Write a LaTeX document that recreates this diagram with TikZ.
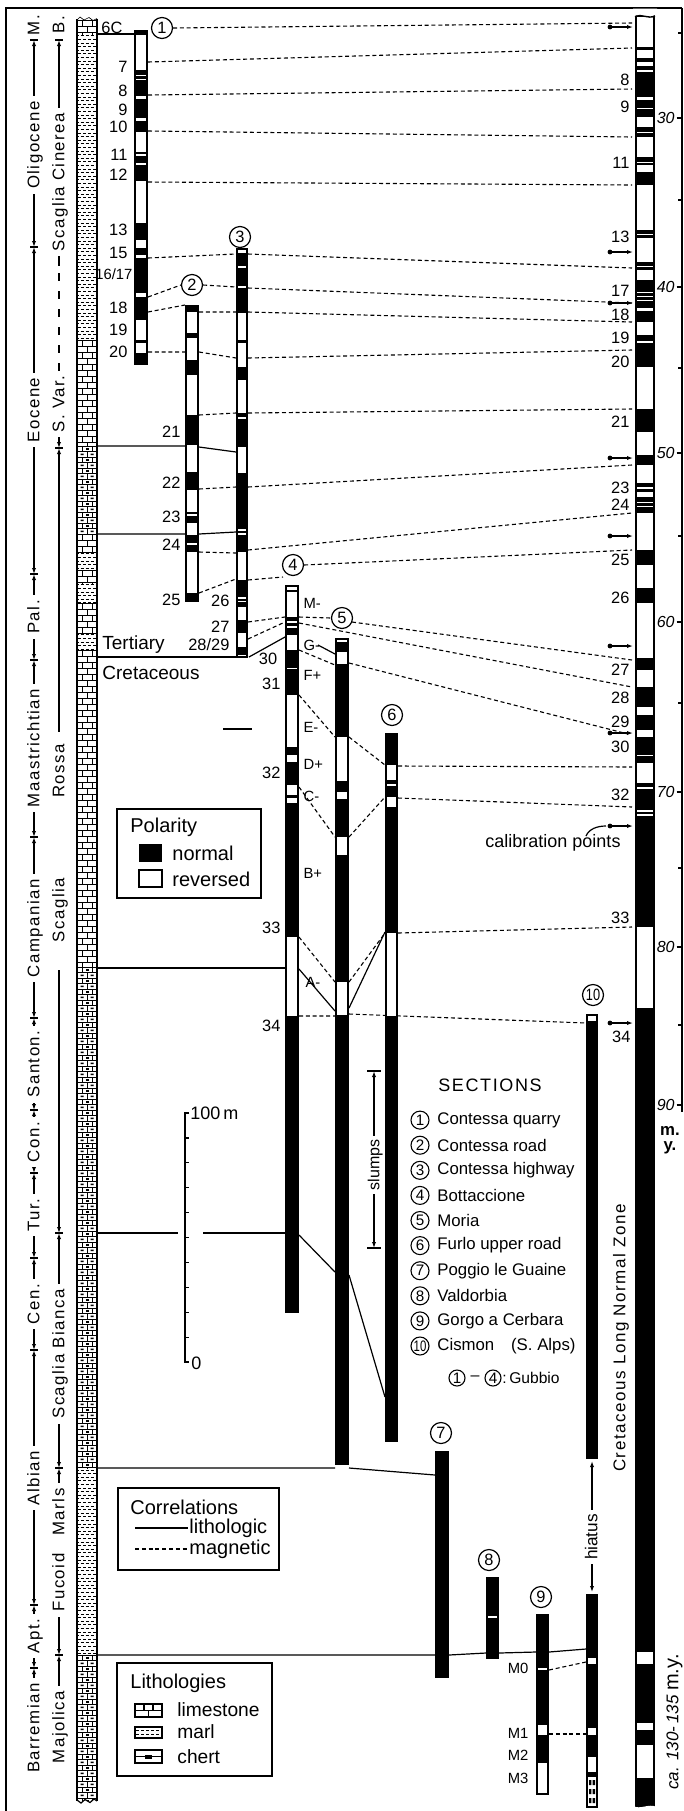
\documentclass[tikz,border=0pt]{standalone}
\usepackage{fontspec}
\setmainfont{Liberation Sans}
\newfontfamily\wide[LetterSpace=9]{Liberation Sans}
\usetikzlibrary{arrows.meta}
\newcommand\pcol[4]{\fill (#1,#3) rectangle (#2,#4);}
\newcommand\wb[3]{\foreach \ya/\yb in {#3}{\fill[white] ({#1+1.6},\ya) rectangle ({#2-1.6},\yb);}}
\newcommand\limest[2]{%
 \begin{scope}\clip (77,#1) rectangle (97,#2);
 \pgfmathtruncatemacro\nr{(#2-#1)/6}
 \foreach \i in {0,...,\nr}{%
   \pgfmathsetmacro\yy{#1+6*\i}
   \draw[pat] (77,\yy) -- (97,\yy);
   \ifodd\i\relax \draw[pat] (87,\yy) -- (87,\yy+6);
   \else \draw[pat] (82,\yy) -- (82,\yy+6) (92,\yy) -- (92,\yy+6);\fi}
 \end{scope}}
\newcommand\marl[2]{%
 \begin{scope}\clip (77,#1) rectangle (97,#2);
 \pgfmathtruncatemacro\nr{(#2-#1)/3.6}
 \foreach \i in {0,...,\nr}{%
   \pgfmathsetmacro\yy{#1+3.6*\i+1.8}
   \ifodd\i\relax \draw[pat,dash pattern=on 1.6pt off 0.9pt] (78,\yy) -- (97,\yy);
   \else \draw[pat,dash pattern=on 1.6pt off 0.9pt,dash phase=1.2pt] (78,\yy) -- (97,\yy);\fi}
 \end{scope}}
\newcommand\chert[2]{%
 \begin{scope}\clip (77,#1) rectangle (97,#2);
 \pgfmathtruncatemacro\nr{(#2-#1)/5.5}
 \foreach \i in {0,...,\nr}{%
   \pgfmathsetmacro\yy{#1+5.5*\i}
   \draw[pat] (77,\yy) -- (97,\yy);
   \ifodd\i\relax
     \draw[pat] (87,\yy) -- (87,\yy+5.5);
     \fill (80.5,\yy+2) rectangle (83.5,\yy+3.6) (90.5,\yy+2) rectangle (93.5,\yy+3.6);
   \else
     \draw[pat] (82,\yy) -- (82,\yy+5.5) (92,\yy) -- (92,\yy+5.5);
     \fill (85.5,\yy+2) rectangle (88.5,\yy+3.6);
   \fi}
 \end{scope}}
\begin{document}
\begin{tikzpicture}[x=0.5pt,y=-0.5pt,>={Latex[length=3pt,width=2.1pt]},
 mag/.style={line width=0.55pt,dash pattern=on 2pt off 1.4pt},
 lit/.style={line width=0.6pt},
 pat/.style={line width=0.32pt},
 num/.style={font=\fontsize{8.2}{9}\selectfont,inner sep=0.6pt},
 sm/.style={font=\fontsize{7.4}{9}\selectfont,inner sep=0.6pt},
 rlab/.style={rotate=90,fill=white,inner xsep=2.5pt,inner ysep=0.3pt,anchor=mid,font=\wide\fontsize{8.4}{10}\selectfont},
 cn/.style={circle,draw,line width=0.6pt,minimum size=10.5pt,inner sep=0pt,font=\fontsize{8.2}{9}\selectfont},
 cs/.style={circle,draw,line width=0.55pt,minimum size=9pt,inner sep=0pt,font=\fontsize{7.6}{8}\selectfont},
 leg/.style={font=\fontsize{10}{12}\selectfont,inner sep=0pt,anchor=west},
 item/.style={font=\fontsize{8.4}{10}\selectfont,inner sep=0pt,anchor=west},
 lbox/.style={line width=0.65pt},
]
\useasboundingbox (0,0) rectangle (684,1811);
% frame and age axis
\draw[line width=0.65pt] (6,1811) -- (6,8) -- (682,8);
\draw[lit] (682,8) -- (682,1112);
\foreach \v/\y in {30/118,40/287,50/453,60/622,70/792,80/947,90/1105}{
  \node[font=\itshape\fontsize{8}{9}\selectfont,anchor=east,inner sep=0.5pt] (age\v) at (676,\y) {\v};
  \draw[lit] (676.5,\y) -- (682,\y);}
\foreach \y in {33,200,368,536,703,868,1025} \draw[lit] (678,\y) -- (682,\y);
\node[font=\bfseries\fontsize{8.4}{9}\selectfont,inner sep=0pt] (my1) at (670,1131) {m.};
\node[font=\bfseries\fontsize{8.4}{9}\selectfont,inner sep=0pt] (my2) at (670,1148) {y.};

% ---------- lithology column ----------
\limest{20}{34}
\marl{34}{340}
\limest{340}{446}
\chert{446}{534}
\limest{534}{552}
\marl{552}{570}
\limest{570}{583}
\marl{583}{603}
\limest{603}{633}
\marl{633}{650}
\limest{650}{967}
\chert{967}{1468}
\marl{1468}{1655}
\chert{1655}{1800}
\draw[line width=0.65pt] (77,19) -- (77,1801) (97,19) -- (97,1801);
\draw[pat] (77,20) -- (80,17) -- (84,20) -- (89,17.5) -- (93,20.5) -- (97,18.5);
\draw[lit] (77,1800) -- (81,1803) -- (85,1799.5) -- (90,1802.5) -- (94,1799) -- (97,1801);

% ---------- epochs ----------
\node[rlab,fill=none,inner xsep=0pt] (epM) at (34,25) {M.};
\foreach \a/\b/\c/\t in {40/247/145/Oligocene, 247/574/410/Eocene, 574/660/617/Pal., 660/837/748/Maastrichtian, 837/1018/928/Campanian, 1018/1110/1064/Santon., 1110/1173/1142/Con., 1173/1258/1215/Tur., 1258/1350/1304/Cen., 1350/1605/1478/Albian, 1605/1668/1636/Apt.}{
  \draw[<->,lit] (34,\a) -- (34,\b);
  \node[rlab] (ep\a) at (34,\c) {\t};}
\draw[<-,lit] (34,1668) -- (34,1700);
\node[rlab] (epBar) at (34,1728) {Barremian};
\foreach \y in {40,247,574,660,837,1018,1110,1173,1258,1350,1605,1668} \draw[lit] (30,\y) -- (38,\y);

% ---------- formations ----------
\node[rlab,fill=none,inner xsep=0pt] (fB) at (59,25) {B.};
\draw[<-,lit] (59,40) -- (59,266);
\node[rlab] (fSC) at (59,182) {Scaglia Cinerea};
\draw[line width=0.6pt,dash pattern=on 4pt off 5pt] (59,273) -- (59,378);
\draw[->,lit] (59,382) -- (59,448);
\node[rlab] (fSV) at (59,404) {S. Var.};
\draw[<-,lit] (59,448) -- (59,732);
\draw[->,lit] (59,970) -- (59,1233);
\node[rlab] (fR1) at (59,771) {Rossa};
\node[rlab] (fR2) at (59,910) {Scaglia};
\draw[<->,lit] (59,1233) -- (59,1468);
\node[rlab] (fSB) at (59,1354) {Scaglia Bianca};
\draw[<->,lit] (59,1468) -- (59,1655);
\node[rlab] (fFM) at (59,1550) {Fucoid\hspace{9pt}Marls};
\draw[<-,lit] (59,1655) -- (59,1700);
\node[rlab] (fMa) at (59,1727) {Majolica};
\foreach \y in {40,448,1233,1468,1655} \draw[lit] (55,\y) -- (63,\y);

% ---------- correlation lines (magnetic, dashed) ----------
\node[cn] (c1) at (162,28) {1};
\node[cn] (c2) at (192,285) {2};
\node[cn] (c3) at (240,237) {3};
\node[cn] (c4) at (293,565) {4};
\node[cn] (c5) at (342,618) {5};
\node[cn] (c6) at (392,715) {6};
\node[cn] (c7) at (441,1433) {7};
\node[cn] (c8) at (489,1560) {8};
\node[cn] (c9) at (541,1597) {9};
\node[cn] (c10) at (593,995) {\scalebox{0.78}[1]{10}};

\draw[mag] (c1.east) -- (632,23);
\draw[mag] (148,62) -- (632,48);
\draw[mag] (148,95) -- (632,89);
\draw[mag] (148,131) -- (632,137);
\draw[mag] (148,182) -- (632,185);
\draw[mag] (148,258) -- (236,254) (248,254) -- (632,268);
\draw[mag] (148,297) -- (c2.west) (c2.east) -- (236,287) (248,288) -- (632,303);
\draw[mag] (148,312) -- (185,305) (199,312) -- (236,312) (248,312) -- (632,322);
\draw[mag] (148,352) -- (185,352) (199,352) -- (236,358) (248,358) -- (632,350);
\draw[mag] (199,415) -- (236,413) (248,413) -- (632,409);
\draw[mag] (199,489) -- (236,487) (248,487) -- (632,465);
\draw[mag] (199,552) -- (236,553) (248,550) -- (632,513);
\draw[mag] (199,593) -- (236,579) (248,580) -- (283,577) (c4.east) -- (632,550);
\draw[mag] (248,622) -- (285,617) (299,617) -- (c5.west) (352,622) -- (632,660);
\draw[mag] (248,639) -- (285,622) (299,623) -- (632,687);
\draw[mag] (299,650) -- (335,665) (349,663) -- (628,734);
\draw[mag] (299,695) -- (335,737) (349,737) -- (385,765);
\draw[mag] (398,766) -- (632,767);
\draw[mag] (299,787) -- (335,837) (349,837) -- (385,797);
\draw[mag] (398,798) -- (632,807);
\draw[mag] (398,933) -- (632,927);
\draw[mag] (299,937) -- (335,982);
\draw[mag] (349,982) -- (385,933);
\draw[mag] (299,1016) -- (335,1016) (349,1014) -- (586,1023);
\draw[mag] (549,1670) -- (586,1662);
\draw[mag] (549,1734) -- (586,1734);

% ---------- lithologic correlation lines (solid) ----------
\draw[lit] (97,34) -- (134,34);
\draw[lit] (97,446) -- (185,446) (199,447) -- (236,452);
\draw[lit] (97,534) -- (185,534) (199,534) -- (236,532);
\draw[lit] (97,657) -- (236,657);
\draw[lit] (249,657) -- (285,637);
\draw[lit] (318,645) -- (335,654);
\draw[lit] (223,729) -- (252,729);
\draw[lit] (97,968) -- (285,968);
\draw[lit] (299,969) -- (335,1011);
\draw[lit] (349,1008) -- (385,932);
\draw[lit] (97,1233) -- (178,1233) (203,1233) -- (285,1233);
\draw[lit] (299,1235) -- (335,1272);
\draw[lit] (349,1275) -- (385,1397);
\draw[lit] (97,1468) -- (335,1468) (349,1468) -- (435,1475);
\draw[lit] (97,1655) -- (435,1655) (449,1655) -- (486,1653) (499,1653) -- (536,1652) (549,1652) -- (586,1649);

% ---------- polarity columns ----------
\pcol{134}{148}{30}{365}
\wb{134}{148}{35/70,74.5/76,78.5/80,96/99,118/121,132/152,154/155.5,163/164.5,181/223,240/248,255/258,293/297,320/340,343/353}
\pcol{185}{199}{305}{602}
\wb{185}{199}{312/333,338/360,375/415,445/472,490/512,514/515.5,523/535,543/545,552/593}
\pcol{236}{248}{248}{658}
\wb{236}{248}{249.6/253,266/267.5,286/287.5,313/340,343/367,380/413,417/418.5,447/473,529/530.5,533/534.5,552/580,597/598.5,600.5/602,607/620,633/647,655/656.4}
\pcol{285}{299}{585}{1313}
\wb{285}{299}{586.6/590,592/617,621/622.5,626/627.5,635/650,667.5/669,695/747,755/762,785/795,798/803,937/1016}
\pcol{335}{349}{638}{1465}
\wb{335}{349}{639.6/642,652/664,737/781,792/799,837/855,982/1015}
\pcol{385}{398}{733}{1442}
\wb{385}{398}{765/780,784/785.5,797/807,933/1016}
\pcol{435}{449}{1451}{1678}
\pcol{486}{499}{1577}{1659}
\wb{486}{499}{1616/1618}
\pcol{536}{549}{1614}{1795}
\wb{536}{549}{1668/1670,1725/1735,1763/1793.4}
\pcol{586}{598}{1014}{1459}
\wb{586}{598}{1015.6/1021}
\pcol{586}{598}{1594}{1808}
\wb{586}{598}{1658/1664,1728/1735,1757/1772,1777/1806.4}
\foreach \r in {1780,1789,1798} \fill (589,\r) rectangle (591.4,\r+5) (592.6,\r) rectangle (595,\r+5);
% reference column
\pcol{635}{655}{15}{1809}
\wb{635}{655}{17/47,50/58,62/66,70/72,97/100,107.5/109,117/127,131.5/132.5,137/157,161.5/162.5,165/172,185/230,233.5/234.5,238/262,266/267,270/280,292/293,296/297,300/301,308/311,322/335,341/343,367/409,432/455,465/483,487/488.5,492/497,502/503,506/507,513/550,565/588,603/658,670/687,707/715,730/737,755/756,763/783,787/788.5,810/811.5,814/815.5,927/1008,1652/1664,1723/1730,1745/1778}
\fill[white] (633,8.5) -- (633,16.5) .. controls (641,12.5) and (648,19.5) .. (657,15.5) -- (657,8.5) -- cycle;
\draw[line width=0.7pt] (635,16.8) .. controls (641,12.8) and (648,19.8) .. (655,15.8);
\fill[white] (633,1812) -- (633,1806) .. controls (641,1810) and (648,1803) .. (657,1807) -- (657,1812) -- cycle;

% calibration points
\foreach \y in {27,252,303,458,536,646,733,826,1023}{
  \fill (610,\y) circle (2.4);
  \draw[->,lit] (610,\y) -- (633,\y);}
\node[font=\fontsize{9}{10}\selectfont,inner sep=0pt] (cal) at (553,843) {calibration points};
\draw[lit] (586,836) .. controls (589,829) and (597,826) .. (606,826);

% ---------- labels ----------
\node[num,anchor=east] (n6c) at (124,28) {6C};
\foreach \t/\y in {7/67,8/91,9/110,10/127,11/155,12/175,13/230,15/253,18/308,19/330,20/352}
  \node[num,anchor=east] (na\t) at (129,\y) {\t};
\node[sm,anchor=east] (n1617) at (134,274) {16/17};
\foreach \t/\y in {21/432,22/483,23/517,24/545,25/600}
  \node[num,anchor=east] (nb\t) at (182,\y) {\t};
\node[num,anchor=east] (n26) at (231,601) {26};
\node[num,anchor=east] (n27) at (231,627) {27};
\node[num,anchor=east] (n2829) at (231,645) {28/29};
\node[num] (n30) at (268,659) {30};
\foreach \t/\y in {31/684,32/773,33/928,34/1026}
  \node[num,anchor=east] (nc\t) at (282,\y) {\t};
\foreach \t/\y in {M-/603,G-/645,F+/675,E-/727,D+/764,C-/796,B+/873}
  \node[sm,anchor=west] (nd\y) at (302,\y) {\t};
\node[sm,anchor=west] (ndA) at (304,982) {A-};
\foreach \t/\y in {8/80,9/107,11/163,13/237,17/291,18/315,19/338,20/362,21/422,23/488,24/505,25/560,26/598,27/670,28/698,29/722,30/747,32/795,33/918}
  \node[num,anchor=east] (nr\t) at (631,\y) {\t};
\node[num,anchor=east] (nr34) at (632,1037) {34};
\foreach \t/\y in {M0/1668,M1/1733,M2/1755,M3/1778}
  \node[sm,anchor=east] (nm\t) at (530,\y) {\t};
\node[font=\fontsize{9.5}{11}\selectfont,anchor=west,inner sep=0pt] (tert) at (102,645) {Tertiary};
\node[font=\fontsize{9.5}{11}\selectfont,anchor=west,inner sep=0pt] (cret) at (102,673) {Cretaceous};

% ---------- scale bar ----------
\draw[lit] (189,1113) -- (185,1113) -- (185,1362) -- (189,1362);
\foreach \k in {1,...,9} \draw[lit] (185,{1113+24.9*\k}) -- (189,{1113+24.9*\k});
\node[font=\fontsize{9}{10}\selectfont,anchor=west,inner sep=0pt] (s100) at (190,1113) {100\,m};
\node[font=\fontsize{9}{10}\selectfont,anchor=west,inner sep=0pt] (s0) at (191,1363) {0};

% slumps and hiatus
\draw[<->,lit] (374,1071) -- (374,1248);
\draw[lit] (367,1071) -- (381,1071) (367,1248) -- (381,1248);
\node[rotate=90,fill=white,inner xsep=2pt,inner ysep=0.3pt,anchor=mid,font=\fontsize{8}{9}\selectfont] (slumps) at (374,1165) {slumps};
\draw[<->,lit] (592,1461) -- (592,1592);
\node[rotate=90,fill=white,inner xsep=2pt,inner ysep=0.3pt,anchor=mid,font=\fontsize{8.6}{9}\selectfont] (hiatus) at (592,1537) {hiatus};
\node[rotate=90,anchor=mid,inner sep=0pt,font=\wide\fontsize{8.5}{10}\selectfont] (clnz) at (620,1338) {Cretaceous Long Normal Zone};
\node[rotate=90,anchor=mid,inner sep=0pt,font=\fontsize{8.5}{10}\selectfont] (camy) at (673,1722) {\textit{ca. 130-\,135}\ {\fontsize{10}{12}\selectfont m.y.}};

% ---------- legends ----------
\draw[lbox] (117,809) rectangle (261,898);
\node[leg] (lp) at (130,827) {Polarity};
\fill (139,844) rectangle (162,862);
\node[leg] (lpn) at (172,853) {normal};
\draw[line width=0.6pt] (139,870) rectangle (162,887);
\node[leg] (lpr) at (172,879) {reversed};

\draw[lbox] (118,1488) rectangle (279,1570);
\node[leg] (lc) at (130,1507) {Correlations};
\draw[lit] (135,1528) -- (188,1528);
\node[leg] (lcl) at (189,1528) {lithologic};
\draw[mag] (135,1549) -- (188,1549);
\node[leg] (lcm) at (189,1549) {magnetic};

\draw[lbox] (117,1663) rectangle (272,1776);
\node[leg] (ll) at (130,1683) {Lithologies};
\draw[lit] (135,1704) rectangle (162,1717) (135,1710.5) -- (162,1710.5) (144,1704) -- (144,1710.5) (153,1704) -- (153,1710.5) (148.5,1710.5) -- (148.5,1717);
\node[leg,font=\fontsize{9.6}{11}\selectfont] (lll) at (177,1710) {limestone};
\draw[lit] (135,1727) rectangle (162,1738);
\draw[pat,dash pattern=on 1.6pt off 0.9pt] (136,1730.5) -- (161,1730.5) (136,1734.5) -- (161,1734.5);
\node[leg,font=\fontsize{9.6}{11}\selectfont] (llm) at (177,1732) {marl};
\draw[lit] (135,1750) rectangle (162,1763) (135,1756.5) -- (162,1756.5);
\fill (145,1754.5) rectangle (152,1758.5);
\node[leg,font=\fontsize{9.6}{11}\selectfont] (llc) at (177,1757) {chert};

\node[font=\wide\fontsize{9}{10}\selectfont,inner sep=0pt] (sect) at (490,1085) {SECTIONS};
\foreach \n/\t [count=\i] in {1/Contessa quarry,2/Contessa road,3/Contessa highway,4/Bottaccione,5/Moria,6/Furlo upper road,7/Poggio le Guaine,8/Valdorbia,9/Gorgo a Cerbara}{
  \node[cs] (ls\n) at (420,{1095+25.1*\i}) {\n};
  \node[item] (lt\n) at (437,{1095+25.1*\i}) {\t};}
\node[cs] (ls10) at (420,1346) {\scalebox{0.75}[1]{10}};
\node[item] (lt10) at (437,1346) {Cismon\quad(S. Alps)};
\node[cs,minimum size=8pt] (g1) at (457,1378) {1};
\node[font=\fontsize{8}{9}\selectfont,inner sep=0pt] (gd) at (475,1378) {--};
\node[cs,minimum size=8pt] (g4) at (493,1378) {4};
\node[font=\fontsize{7.8}{9}\selectfont,anchor=west,inner sep=0pt] (gub) at (502,1378) {:\,Gubbio};
\end{tikzpicture}
\end{document}
